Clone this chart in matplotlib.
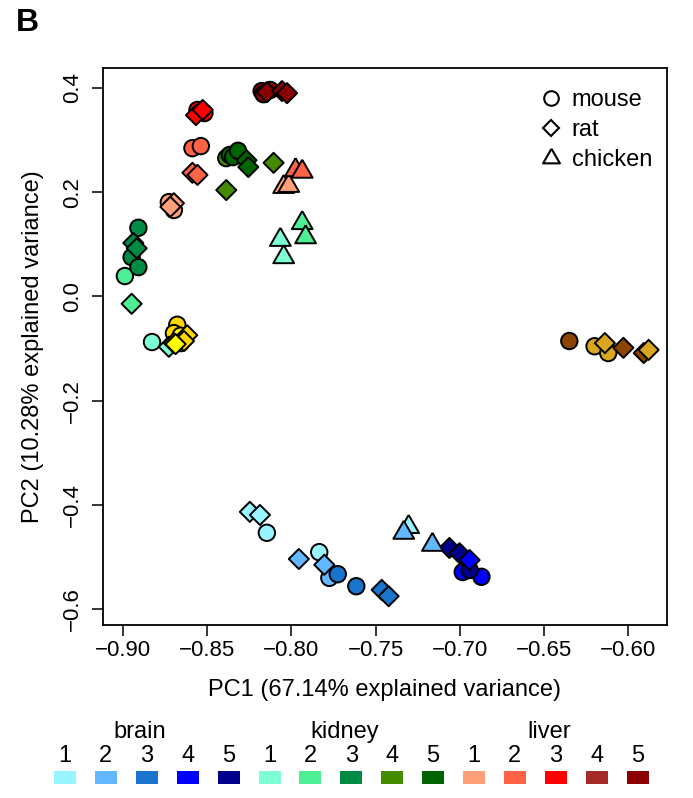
import matplotlib
matplotlib.use("Agg")
import matplotlib.pyplot as plt
from matplotlib.patches import Rectangle
from matplotlib.lines import Line2D

plt.rcParams['font.family'] = ['Liberation Sans', 'DejaVu Sans']

# ---- colours of the groups ----
group_colors = {
    'brain1': '#98F5FF', 'brain2': '#63B8FF', 'brain3': '#1874CD', 'brain4': '#0000FF', 'brain5': '#00008B',
    'kidney1': '#7FFFD4', 'kidney2': '#4EEE94', 'kidney3': '#008B45', 'kidney4': '#458B00', 'kidney5': '#006400',
    'liver1': '#FFA07A', 'liver2': '#FF6347', 'liver3': '#FF0000', 'liver4': '#A52A2A', 'liver5': '#8B0000',
    'other_gold': '#FFD700', 'other_yellow': '#FFFF00', 'other_goldenrod': '#DAA520', 'other_brown': '#8B4500',
}

# ---- mouse (circles) ----
mouse_x = [-0.8146, -0.7835, -0.7775, -0.7725, -0.7615, -0.6983, -0.6872, -0.6942,
           -0.8828, -0.8989, -0.8909, -0.8949, -0.8909, -0.8387, -0.8367, -0.8347, -0.8317,
           -0.8728, -0.8698, -0.8588, -0.8538, -0.8558, -0.8517, -0.8177, -0.8126, -0.8166,
           -0.8678, -0.8698, -0.8658, -0.8658, -0.6350, -0.6200, -0.6119]
mouse_y = [-0.4537, -0.4909, -0.5402, -0.5332, -0.5563, -0.5291, -0.5382, -0.5251,
           -0.0876, 0.0391, 0.1317, 0.0753, 0.0562, 0.2654, 0.2715, 0.2674, 0.2795,
           0.1809, 0.1658, 0.2845, 0.2885, 0.3579, 0.3519, 0.3941, 0.3962, 0.3881,
           -0.0544, -0.0705, -0.0896, -0.0755, -0.0856, -0.0957, -0.1087]
mouse_group = ['brain1', 'brain1', 'brain2', 'brain3', 'brain3', 'brain4', 'brain4', 'brain5',
               'kidney1', 'kidney2', 'kidney3', 'kidney3', 'kidney3', 'kidney4', 'kidney5', 'kidney5', 'kidney5',
               'liver1', 'liver1', 'liver2', 'liver2', 'liver3', 'liver3', 'liver5', 'liver5', 'liver5',
               'other_gold', 'other_gold', 'other_gold', 'other_yellow', 'other_brown', 'other_goldenrod', 'other_goldenrod']

# ---- rat (diamonds) ----
rat_x = [-0.8247, -0.8187, -0.7956, -0.7805, -0.7464, -0.7423, -0.7062, -0.7002, -0.6942,
         -0.8728, -0.8949, -0.8939, -0.8919, -0.8106, -0.8387, -0.8267, -0.8256,
         -0.8698, -0.8719, -0.8588, -0.8558, -0.8567, -0.8527, -0.8146, -0.8056, -0.8026,
         -0.8619, -0.8638, -0.8698, -0.8688, -0.6139, -0.6029, -0.5908, -0.5879]
rat_y = [-0.4135, -0.4195, -0.5040, -0.5151, -0.5633, -0.5754, -0.4829, -0.4929, -0.5060,
         -0.0967, -0.0142, 0.1025, 0.0924, 0.2564, 0.2041, 0.2614, 0.2483,
         0.1789, 0.1719, 0.2373, 0.2332, 0.3479, 0.3579, 0.3921, 0.3941, 0.3901,
         -0.0745, -0.0856, -0.0896, -0.0916, -0.0896, -0.0987, -0.1087, -0.1027]
rat_group = ['brain1', 'brain1', 'brain2', 'brain2', 'brain3', 'brain3', 'brain5', 'brain5', 'brain4',
             'kidney1', 'kidney2', 'kidney3', 'kidney3', 'kidney4', 'kidney4', 'kidney5', 'kidney5',
             'liver1', 'liver1', 'liver2', 'liver2', 'liver3', 'liver3', 'liver5', 'liver5', 'liver5',
             'other_gold', 'other_gold', 'other_yellow', 'other_yellow', 'other_goldenrod', 'other_brown', 'other_brown', 'other_goldenrod']

# ---- chicken (triangles) ----
chicken_x = [-0.7304, -0.7333, -0.7163, -0.8066, -0.8046, -0.7936, -0.7916, -0.8046, -0.8016, -0.7976, -0.7936]
chicken_y = [-0.4426, -0.4537, -0.4768, 0.1085, 0.0753, 0.1407, 0.1135, 0.2101, 0.2121, 0.2423, 0.2393]
chicken_group = ['brain1', 'brain2', 'brain2', 'kidney1', 'kidney1', 'kidney2', 'kidney2',
                 'liver1', 'liver1', 'liver2', 'liver2']

species_labels = ['mouse', 'rat', 'chicken']
tissues = ['brain', 'kidney', 'liver']
stages = ['1', '2', '3', '4', '5']

x_ticks = [-0.90, -0.85, -0.80, -0.75, -0.70, -0.65, -0.60]
y_ticks = [-0.6, -0.4, -0.2, 0.0, 0.2, 0.4]

W, H = 693, 798
FS = 17.0
FT = 16.0
# R-like triangle (pch 24): centred on the point
tri = [(0, 1.5551), (1.3468, -0.7776), (-1.3468, -0.7776), (0, 1.5551)]

fig = plt.figure(figsize=(W / 100, H / 100), dpi=100)
ax = fig.add_axes([103 / W, 1 - 625 / H, 564 / W, 557 / H])

ew = 1.4
for xs, ys, gs, mk, s in [(mouse_x, mouse_y, mouse_group, 'o', 140),
                          (rat_x, rat_y, rat_group, 'D', 105),
                          (chicken_x, chicken_y, chicken_group, tri, 300)]:
    ax.scatter(xs, ys, c=[group_colors[g] for g in gs], marker=mk, s=s,
               edgecolors='black', linewidths=ew, zorder=3)

ax.set_xlim(-0.9119, -0.5770)
ax.set_ylim(-0.6307, 0.4384)
ax.set_xticks(x_ticks)
ax.set_xticklabels([f"{v:.2f}".replace('-', '\u2212') for v in x_ticks], fontsize=FT)
ax.set_yticks(y_ticks)
ax.set_yticklabels([f"{v:.1f}".replace('-', '\u2212') for v in y_ticks], fontsize=FT,
                   rotation=90, va='center')
ax.tick_params(direction='out', length=8, width=1.1)
ax.tick_params(axis='x', pad=3.0)
ax.tick_params(axis='y', pad=6.5)
for sp in ax.spines.values():
    sp.set_linewidth(1.3)
ax.set_xlabel('PC1 (67.14% explained variance)', fontsize=FS, labelpad=13)
ax.set_ylabel('PC2 (10.28% explained variance)', fontsize=FS, labelpad=13)

# species legend
handles = [Line2D([], [], marker=m, linestyle='none', markerfacecolor='none',
                  markeredgecolor='black', markeredgewidth=1.5, markersize=ms)
           for m, ms in [('o', 10.5), ('D', 8.5), (tri, 14)]]
ax.legend(handles, species_labels, loc='upper left', frameon=False, fontsize=FS,
          handletextpad=0.4, labelspacing=0.33, borderpad=0.4, handlelength=1.0,
          bbox_to_anchor=(0.735, 1.0))

# panel letter
fig.text(16 / W, 1 - 23 / H, 'B', fontsize=23, fontweight='bold', va='center', ha='left')

# colour key at bottom
x0, dx = 65, 40.9
for ti, t in enumerate(tissues):
    cx = x0 + dx * (ti * 5 + 2) - 7
    fig.text(cx / W, 1 - 732 / H, t, fontsize=FS, ha='center', va='center')
    for si, st in enumerate(stages):
        k = ti * 5 + si
        px = x0 + dx * k
        fig.text(px / W, 1 - 756 / H, st, fontsize=FS, ha='center', va='center')
        fig.patches.append(Rectangle(((px - 11) / W, 1 - 784 / H), 22 / W, 13 / H,
                                     transform=fig.transFigure,
                                     facecolor=group_colors[f"{t}{st}"], edgecolor='none'))

fig.savefig('out.png', dpi=100)
